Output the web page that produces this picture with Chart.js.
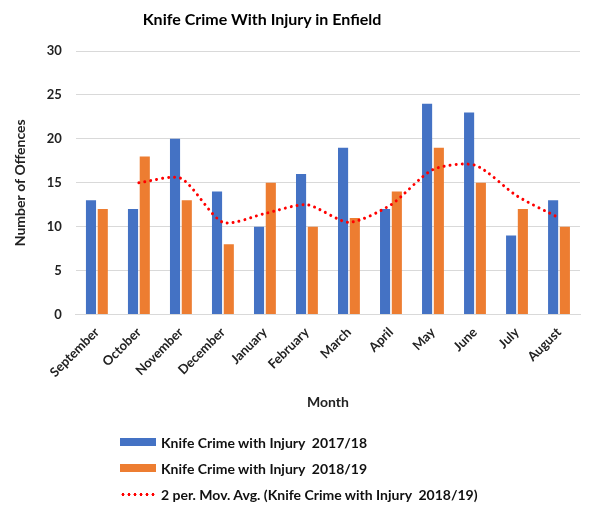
<!DOCTYPE html>
<html>
<head>
<meta charset="utf-8">
<script src="https://cdn.jsdelivr.net/npm/chart.js@4"></script>
<style>
  body { margin: 0; background: #fff; }
  #wrap { position: relative; width: 598px; height: 507px; }
  #title { position: absolute; left: 0; width: 524px; top: 9px; text-align: center;
           font: bold 16px Lato, sans-serif; color: #000; }
  #legend { position: absolute; left: 120px; top: 429px; font: bold 14px Lato, sans-serif; color: #111; }
  .row { display: flex; align-items: center; height: 26px; white-space: pre; }
  .swatch { width: 36px; height: 8px; margin-right: 5px; }
  .dots { width: 36px; height: 3px; margin-right: 5px;
          background-image: radial-gradient(circle, #ff0000 1.4px, transparent 1.6px);
          background-size: 6px 3px; }
</style>
</head>
<body>
<div id="wrap">
  <canvas id="knifeChart" width="598" height="507"></canvas>
  <div id="title">Knife Crime With Injury in Enfield</div>
  <div id="legend"></div>
</div>
<script>
const months = ["September", "October", "November", "December", "January", "February",
                "March", "April", "May", "June", "July", "August"];
const crime1718 = [13, 12, 20, 14, 10, 16, 19, 12, 24, 23, 9, 13];
const crime1819 = [12, 18, 13, 8, 15, 10, 11, 14, 19, 15, 12, 10];
const movAvg1819 = [null, 15, 15.5, 10.5, 11.5, 12.5, 10.5, 12.5, 16.5, 17, 13.5, 11];
const yTicks = [0, 5, 10, 15, 20, 25, 30];

const textColor = '#222';
const font = 'Lato, sans-serif';

const ctx = document.getElementById('knifeChart').getContext('2d');
const knifeChart = new Chart(ctx, {
    type: 'bar',
    data: {
        labels: months,
        datasets: [{
            type: 'line',
            label: '2 per. Mov. Avg. (Knife Crime with Injury  2018/19)',
            data: movAvg1819,
            borderColor: '#ff0000',
            borderWidth: 3,
            borderDash: [0.01, 6],
            borderCapStyle: 'round',
            pointRadius: 0,
            tension: 0.25,
            fill: false,
            order: 0
        }, {
            label: 'Knife Crime with Injury  2017/18',
            data: crime1718,
            backgroundColor: '#4472C4',
            categoryPercentage: 0.56,
            barPercentage: 0.86,
            order: 1
        }, {
            label: 'Knife Crime with Injury  2018/19',
            data: crime1819,
            backgroundColor: '#ED7D31',
            categoryPercentage: 0.56,
            barPercentage: 0.86,
            order: 1
        }]
    },
    options: {
        responsive: false,
        animation: false,
        layout: { padding: { left: 8, right: 18, top: 51, bottom: 92 } },
        plugins: {
            legend: { display: false },
            tooltip: { enabled: false },
            title: { display: false }
        },
        scales: {
            x: {
                grid: { display: false },
                border: { color: '#d9d9d9', width: 1 },
                ticks: {
                    color: textColor,
                    font: { family: font, size: 13, weight: 'bold' },
                    minRotation: 45,
                    maxRotation: 45,
                    padding: 2
                },
                title: {
                    display: true,
                    text: 'Month',
                    color: textColor,
                    font: { family: font, size: 14, weight: 'bold' },
                    padding: { top: 12 }
                }
            },
            y: {
                min: 0,
                max: 30,
                afterBuildTicks: axis => { axis.ticks = yTicks.map(v => ({ value: v })); },
                grid: { color: '#d9d9d9', drawTicks: false },
                border: { display: false },
                ticks: {
                    color: textColor,
                    font: { family: font, size: 13, weight: 'bold' },
                    padding: 14
                },
                title: {
                    display: true,
                    text: 'Number of Offences',
                    color: textColor,
                    font: { family: font, size: 14, weight: 'bold' },
                    padding: { bottom: 4 }
                }
            }
        }
    }
});

// legend stacked vertically, same order as the reference
const legendEl = document.getElementById('legend');
[1, 2, 0].forEach(i => {
    const ds = knifeChart.data.datasets[i];
    const row = document.createElement('div');
    row.className = 'row';
    const mark = document.createElement('span');
    if (ds.type === 'line') {
        mark.className = 'dots';
    } else {
        mark.className = 'swatch';
        mark.style.background = ds.backgroundColor;
    }
    const txt = document.createElement('span');
    txt.textContent = ds.label;
    row.appendChild(mark);
    row.appendChild(txt);
    legendEl.appendChild(row);
});
</script>
</body>
</html>
